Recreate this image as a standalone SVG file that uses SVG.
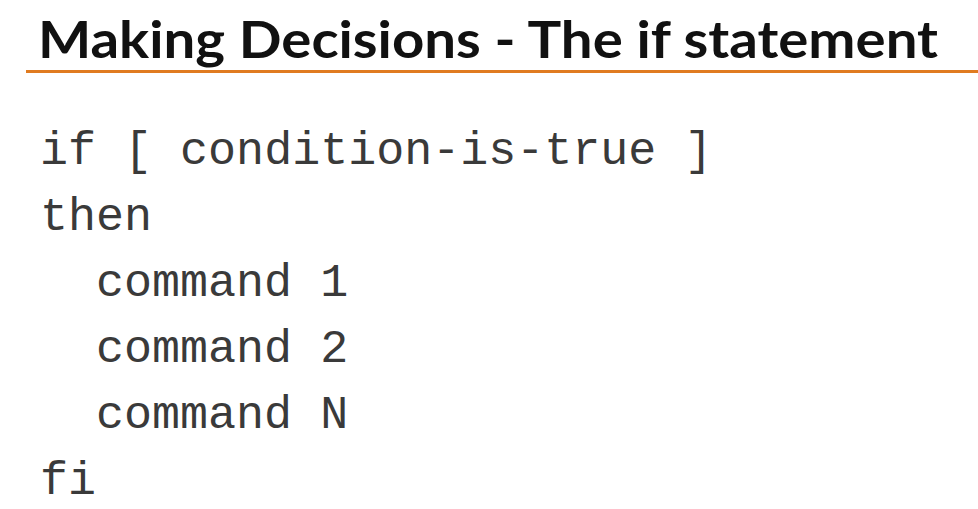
<svg xmlns="http://www.w3.org/2000/svg" width="978" height="509" viewBox="0 0 978 509">
<style>
.title{font-family:Lato,"Liberation Sans",sans-serif;font-weight:700;font-size:52px;fill:#111}
.code{font-family:"Courier New","Nimbus Mono PS","Nimbus Mono L",FreeMono,"Liberation Mono",monospace;font-size:46.7px;fill:#3a3a3a}
</style>
<rect width="978" height="509" fill="#fff"/>
<g id="title">
<text class="title" x="38" y="58" textLength="900" lengthAdjust="spacingAndGlyphs">Making Decisions - The if statement</text>
<line x1="26" y1="71.5" x2="978" y2="71.5" stroke="#E07B20" stroke-width="3"/>
</g>
<g id="code">
<text class="code" x="40" y="164" xml:space="preserve">if [ condition-is-true ]</text>
<text class="code" x="40" y="230">then</text>
<text class="code" x="96" y="296">command 1</text>
<text class="code" x="96" y="362">command 2</text>
<text class="code" x="96" y="428">command N</text>
<text class="code" x="40" y="494">fi</text>
</g>
</svg>
